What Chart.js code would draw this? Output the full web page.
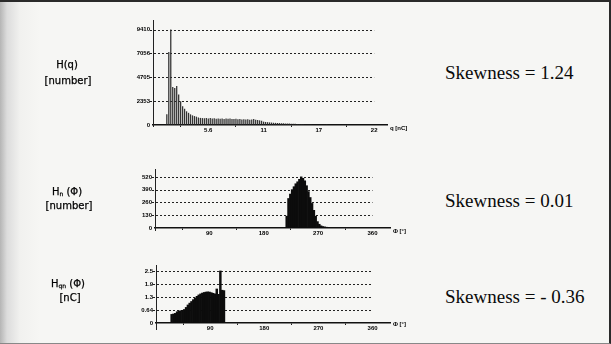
<!DOCTYPE html>
<html>
<head>
<meta charset="utf-8">
<script src="https://cdn.jsdelivr.net/npm/chart.js@4.4.1/dist/chart.umd.min.js"></script>
<style>
  html, body { margin: 0; padding: 0; background: #fff; }
  #page {
    position: relative; width: 611px; height: 344px; overflow: hidden; box-sizing: border-box;
    border-top: 2px solid #2a2a2a; border-right: 2px solid #2a2a2a; border-bottom: 1px solid #888;
    background: linear-gradient(to right, #b5b5b5 0px, #dcdcdc 7px, #f1f1ef 20px, #f6f6f4 40px);
  }
  .plot { position: absolute; }
  .lbl { position: absolute; font-family: "DejaVu Sans", sans-serif; font-size: 10px; line-height: 10px; color: #000; -webkit-text-stroke: 0.25px #000; text-align: center; width: 80px; white-space: nowrap; }
  .lbl sub { font-size: 6px; vertical-align: -1px; }
  .unit { position: absolute; font-family: "Liberation Sans", sans-serif; font-weight: bold; font-size: 6px; line-height: 6px; color: #000; white-space: nowrap; }
  .skew { position: absolute; left: 445px; font-family: "Liberation Serif", serif; font-size: 19px; line-height: 19px; color: #0a0a0a; white-space: nowrap; }
</style>
</head>
<body>
<div id="page">
  <canvas class="plot" id="chartQ" width="300" height="128" style="left:100px;top:6px"></canvas>
  <canvas class="plot" id="chartN" width="300" height="82" style="left:100px;top:156px"></canvas>
  <canvas class="plot" id="chartQN" width="300" height="82" style="left:100px;top:252px"></canvas>

  <div class="lbl" style="left:27px;top:58px">H(q)</div>
  <div class="lbl" style="left:28px;top:74px">[number]</div>
  <div class="lbl" style="left:27px;top:185px">H<sub>n</sub> (Φ)</div>
  <div class="lbl" style="left:29px;top:199px">[number]</div>
  <div class="lbl" style="left:28px;top:277px">H<sub>qn</sub> (Φ)</div>
  <div class="lbl" style="left:30px;top:291px">[nC]</div>

  <div class="unit" style="left:390px;top:123px">q [nC]</div>
  <div class="unit" style="left:393px;top:226px">Φ [°]</div>
  <div class="unit" style="left:393px;top:319px">Φ [°]</div>

  <div class="skew" style="top:61px">Skewness = 1.24</div>
  <div class="skew" style="top:189px">Skewness = 0.01</div>
  <div class="skew" style="top:285px">Skewness = - 0.36</div>
</div>
<script>
// H(q) histogram: charge bins [nC] and pulse counts
const qBins = [1.4, 1.6, 1.8, 2.0, 2.2, 2.4, 2.6, 2.8, 3.0, 3.2, 3.4, 3.6, 3.8, 4.0, 4.2, 4.4, 4.6, 4.8,
  5.0, 5.2, 5.4, 5.6, 5.8, 6.0, 6.2, 6.4, 6.6, 6.8, 7.0, 7.2, 7.4, 7.6, 7.8, 8.0, 8.2, 8.4, 8.6, 8.8,
  9.0, 9.2, 9.4, 9.6, 9.8, 10.0, 10.2, 10.4, 10.6, 10.8, 11.0, 11.2, 11.4, 11.6, 11.8, 12.0, 12.2, 12.4,
  12.6, 12.8, 13.0, 13.2, 13.4, 13.6, 13.8, 14.0, 14.2, 14.4, 14.6, 14.8, 15.0, 15.2, 15.4, 15.6, 15.8,
  16.0, 16.4, 16.8, 17.2, 17.6];
const hqCounts = [1050, 7200, 9410, 3750, 3650, 3850, 3000, 2350, 1850, 1600, 1350, 1200, 1050, 950, 880, 820, 740, 700,
  680, 660, 700, 650, 680, 640, 660, 620, 650, 610, 640, 600, 630, 610, 650, 600, 580, 620, 560, 590,
  540, 570, 530, 560, 520, 550, 580, 520, 490, 460, 420, 330, 300, 280, 260, 240, 220, 210,
  200, 190, 180, 170, 160, 150, 140, 130, 120, 115, 110, 100, 95, 90, 85, 80, 75,
  70, 60, 50, 40, 30];
const qTicksY = [0, 2353, 4705, 7056, 9410];
const qTicksX = [5.6, 11.2, 16.8, 22.4];
const qTickLabelsX = ['5.6', '11', '17', '22'];

// Hn(phi): phase bins [deg] and pulse counts
const phiN = [218, 221, 224, 227, 230, 233, 236, 239, 242, 245, 248, 251, 254, 257, 260, 263, 266, 269,
  272, 275, 278, 281, 284, 287];
const hnCounts = [120, 300, 345, 390, 420, 450, 470, 495, 520, 505, 480, 430, 370, 310, 250, 180, 120, 65,
  38, 22, 15, 11, 8, 5];
const nTicksY = [0, 130, 260, 390, 520];

// Hqn(phi): phase bins [deg] and mean charge [nC]
const phiQN = [26, 29, 32, 35, 38, 41, 44, 47, 50, 53, 56, 59, 62, 65, 68, 71, 74, 77, 80, 83, 86, 89,
  92, 95, 98, 101, 104, 107, 110, 113];
const hqnCharge = [0.42, 0.44, 0.47, 0.55, 0.58, 0.60, 0.62, 0.66, 0.76, 0.88, 0.97, 1.05, 1.14, 1.22, 1.30, 1.37,
  1.42, 1.46, 1.49, 1.51, 1.52, 1.51, 1.48, 1.45, 1.42, 1.66, 1.40, 2.54, 1.60, 1.58];
const qnTicksY = [0, 0.635, 1.27, 1.905, 2.54];
const qnTickLabelsY = ['0', '0.64', '1.3', '1.9', '2.5'];

const phiTicksX = [90, 180, 270, 360];

const tickFont = { family: 'Liberation Sans', size: 6, weight: 'bold' };

// dotted grid lines, stopping at the last x tick
const dottedGrid = {
  id: 'dottedGrid',
  beforeDatasetsDraw(chart, args, opts) {
    const { ctx, chartArea, scales: { x, y } } = chart;
    const xEnd = x.getPixelForValue(opts.end);
    ctx.save();
    ctx.strokeStyle = '#222';
    ctx.lineWidth = 1;
    ctx.setLineDash([2, 2]);
    y.ticks.forEach(t => {
      if (t.value === 0) return;
      const py = Math.round(y.getPixelForValue(t.value)) + 0.5;
      ctx.beginPath();
      ctx.moveTo(chartArea.left - 3, py);
      ctx.lineTo(xEnd, py);
      ctx.stroke();
    });
    // y axis running a little below the baseline
    ctx.setLineDash([]);
    ctx.strokeStyle = '#222';
    ctx.beginPath();
    ctx.moveTo(chartArea.left + 0.5, chartArea.bottom);
    ctx.lineTo(chartArea.left + 0.5, chartArea.bottom + (opts.below || 0));
    ctx.stroke();
    ctx.restore();
  }
};

function makeHist(id, xs, ys, cfg) {
  const ctx = document.getElementById(id).getContext('2d');
  return new Chart(ctx, {
    type: 'bar',
    data: {
      datasets: [{
        data: xs.map((v, i) => ({ x: v, y: ys[i] })),
        backgroundColor: cfg.color,
        borderWidth: 0,
        barPercentage: cfg.barPct,
        categoryPercentage: 1
      }]
    },
    options: {
      responsive: false,
      devicePixelRatio: 1,
      animation: false,
      layout: { padding: { top: cfg.padTop, right: cfg.padRight, left: 0, bottom: 0 } },
      plugins: {
        legend: { display: false },
        tooltip: { enabled: false },
        dottedGrid: { end: cfg.xTicks[cfg.xTicks.length - 1], below: cfg.below }
      },
      scales: {
        x: {
          type: 'linear',
          offset: false,
          min: 0,
          max: cfg.xMax,
          afterBuildTicks: s => { s.ticks = cfg.xTicks.map(v => ({ value: v })); },
          afterFit: s => { s.height = cfg.xHeight; },
          ticks: {
            font: tickFont, color: '#000', padding: 0, maxRotation: 0, autoSkip: false,
            callback: v => cfg.xLabels[cfg.xTicks.indexOf(v)]
          },
          grid: { drawOnChartArea: false, drawTicks: true, tickLength: 2, tickColor: '#222' },
          border: { color: '#111', width: 1.5 }
        },
        y: {
          min: 0,
          max: cfg.yMax,
          afterBuildTicks: s => { s.ticks = cfg.yTicks.map(v => ({ value: v })); },
          afterFit: s => { s.width = cfg.yWidth; },
          ticks: {
            font: tickFont, color: '#000', padding: 3, autoSkip: false,
            callback: v => cfg.yLabels[cfg.yTicks.indexOf(v)]
          },
          grid: { drawOnChartArea: false, drawTicks: false },
          border: { color: '#222', width: 1 }
        }
      }
    },
    plugins: [dottedGrid]
  });
}

makeHist('chartQ', qBins, hqCounts, {
  color: '#333', barPct: 0.65,
  xMax: 23.7, xTicks: qTicksX, xLabels: qTickLabelsX, xHeight: 11,
  yMax: 10350, yTicks: qTicksY, yLabels: qTicksY.map(String), yWidth: 53,
  padTop: 12, padRight: 13, below: 2
});

makeHist('chartN', phiN, hnCounts, {
  color: '#0c0c0c', barPct: 1,
  xMax: 389, xTicks: phiTicksX, xLabels: phiTicksX.map(String), xHeight: 12,
  yMax: 600, yTicks: nTicksY, yLabels: nTicksY.map(String), yWidth: 55,
  padTop: 11, padRight: 10, below: 3
});

makeHist('chartQN', phiQN, hqnCharge, {
  color: '#0c0c0c', barPct: 1,
  xMax: 389, xTicks: phiTicksX, xLabels: phiTicksX.map(String), xHeight: 13,
  yMax: 2.83, yTicks: qnTicksY, yLabels: qnTickLabelsY, yWidth: 56,
  padTop: 11, padRight: 10, below: 7
});
</script>
</body>
</html>
